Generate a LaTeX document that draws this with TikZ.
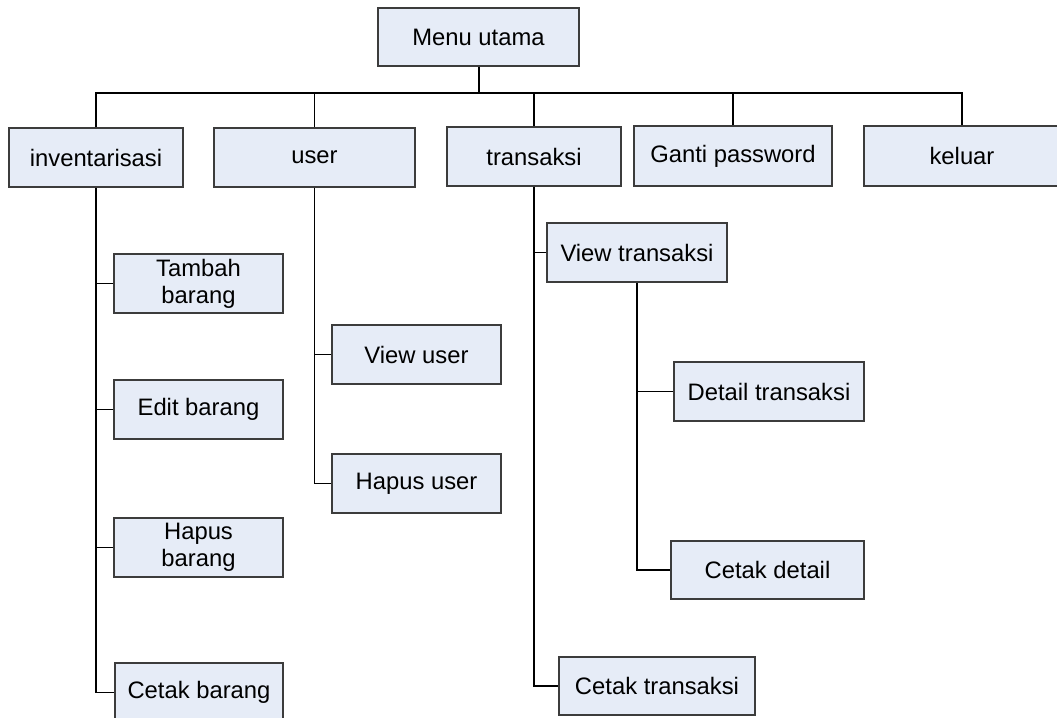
\documentclass[tikz,border=0pt]{standalone}
\usepackage{fontspec}
\setmainfont{Liberation Sans}
\definecolor{boxfill}{RGB}{230,236,247}
\definecolor{boxline}{RGB}{60,60,60}
\tikzset{
  menubox/.style={draw=boxline, fill=boxfill, line width=0.6pt, inner sep=0pt,
    align=center, font=\fontsize{11.9}{13.6}\selectfont},
  conn/.style={draw=black, line width=0.6pt},
  stem/.style={draw=black, line width=1pt}
}
% a helper: name, centre x, centre y, width, height, text (units of 0.5pt)
\newcommand{\menunode}[6]{%
  \node[menubox, minimum width=#4*0.5pt, minimum height=#5*0.5pt] (#1) at (#2,#3) {#6};}
\begin{document}
\begin{tikzpicture}[x=0.5pt, y=-0.5pt]
\useasboundingbox (0,0) rectangle (1057,718);
\clip (0,0) rectangle (1057,718);
\fill[white] (0,0) rectangle (1057,718);

% top level
\menunode{menu}{478.5}{37}{201}{58}{Menu utama}

% first level
\menunode{inv}{96}{157.5}{174}{59}{inventarisasi}
\menunode{user}{314.5}{157.5}{201}{59}{user}
\menunode{trans}{534}{156.5}{174}{59}{transaksi}
\menunode{ganti}{733}{156}{198}{60}{Ganti password}
\menunode{keluar}{962}{156}{196}{60}{keluar}

% inventarisasi items
\menunode{tambah}{198.5}{283.5}{169}{59}{Tambah\\barang}
\menunode{edit}{198.5}{409.5}{169}{59}{Edit barang}
\menunode{hapusb}{198.5}{547.5}{169}{59}{Hapus\\barang}
\menunode{cetakb}{199}{692.5}{168}{59}{Cetak barang}

% user items
\menunode{viewuser}{416.5}{354.5}{169}{59}{View user}
\menunode{hapususer}{416.5}{483.5}{169}{59}{Hapus user}

% transaksi items
\menunode{viewtrans}{637}{252.5}{180}{59}{View transaksi}
\menunode{cetaktrans}{657}{686}{196}{58}{Cetak transaksi}
\menunode{detail}{769}{391.5}{190}{59}{Detail transaksi}
\menunode{cetakdetail}{767.5}{570}{193}{58}{Cetak detail}

% bus under the main menu
\coordinate (bus) at (0,93);
\draw[stem] (menu.south) -- (menu.south |- bus);
\draw[conn] (inv.north) -- (inv.north |- bus) -- (keluar.north |- bus) -- (keluar.north);
\draw[conn] (user.north) -- (user.north |- bus);
\draw[conn] (trans.north) -- (trans.north |- bus);
\draw[conn] (ganti.north) -- (ganti.north |- bus);

% inventarisasi branch
\draw[conn] (inv.south) |- (cetakb.west);
\draw[conn] (tambah.west) -- (tambah.west -| inv.south);
\draw[conn] (edit.west) -- (edit.west -| inv.south);
\draw[conn] (hapusb.west) -- (hapusb.west -| inv.south);

% user branch
\draw[conn] (user.south) |- (hapususer.west);
\draw[conn] (viewuser.west) -- (viewuser.west -| user.south);

% transaksi branch
\draw[conn] (trans.south) |- (cetaktrans.west);
\draw[conn] (viewtrans.west) -- (viewtrans.west -| trans.south);

% view transaksi branch
\draw[conn] (viewtrans.south) |- (cetakdetail.west);
\draw[conn] (detail.west) -- (detail.west -| viewtrans.south);
\end{tikzpicture}
\end{document}
